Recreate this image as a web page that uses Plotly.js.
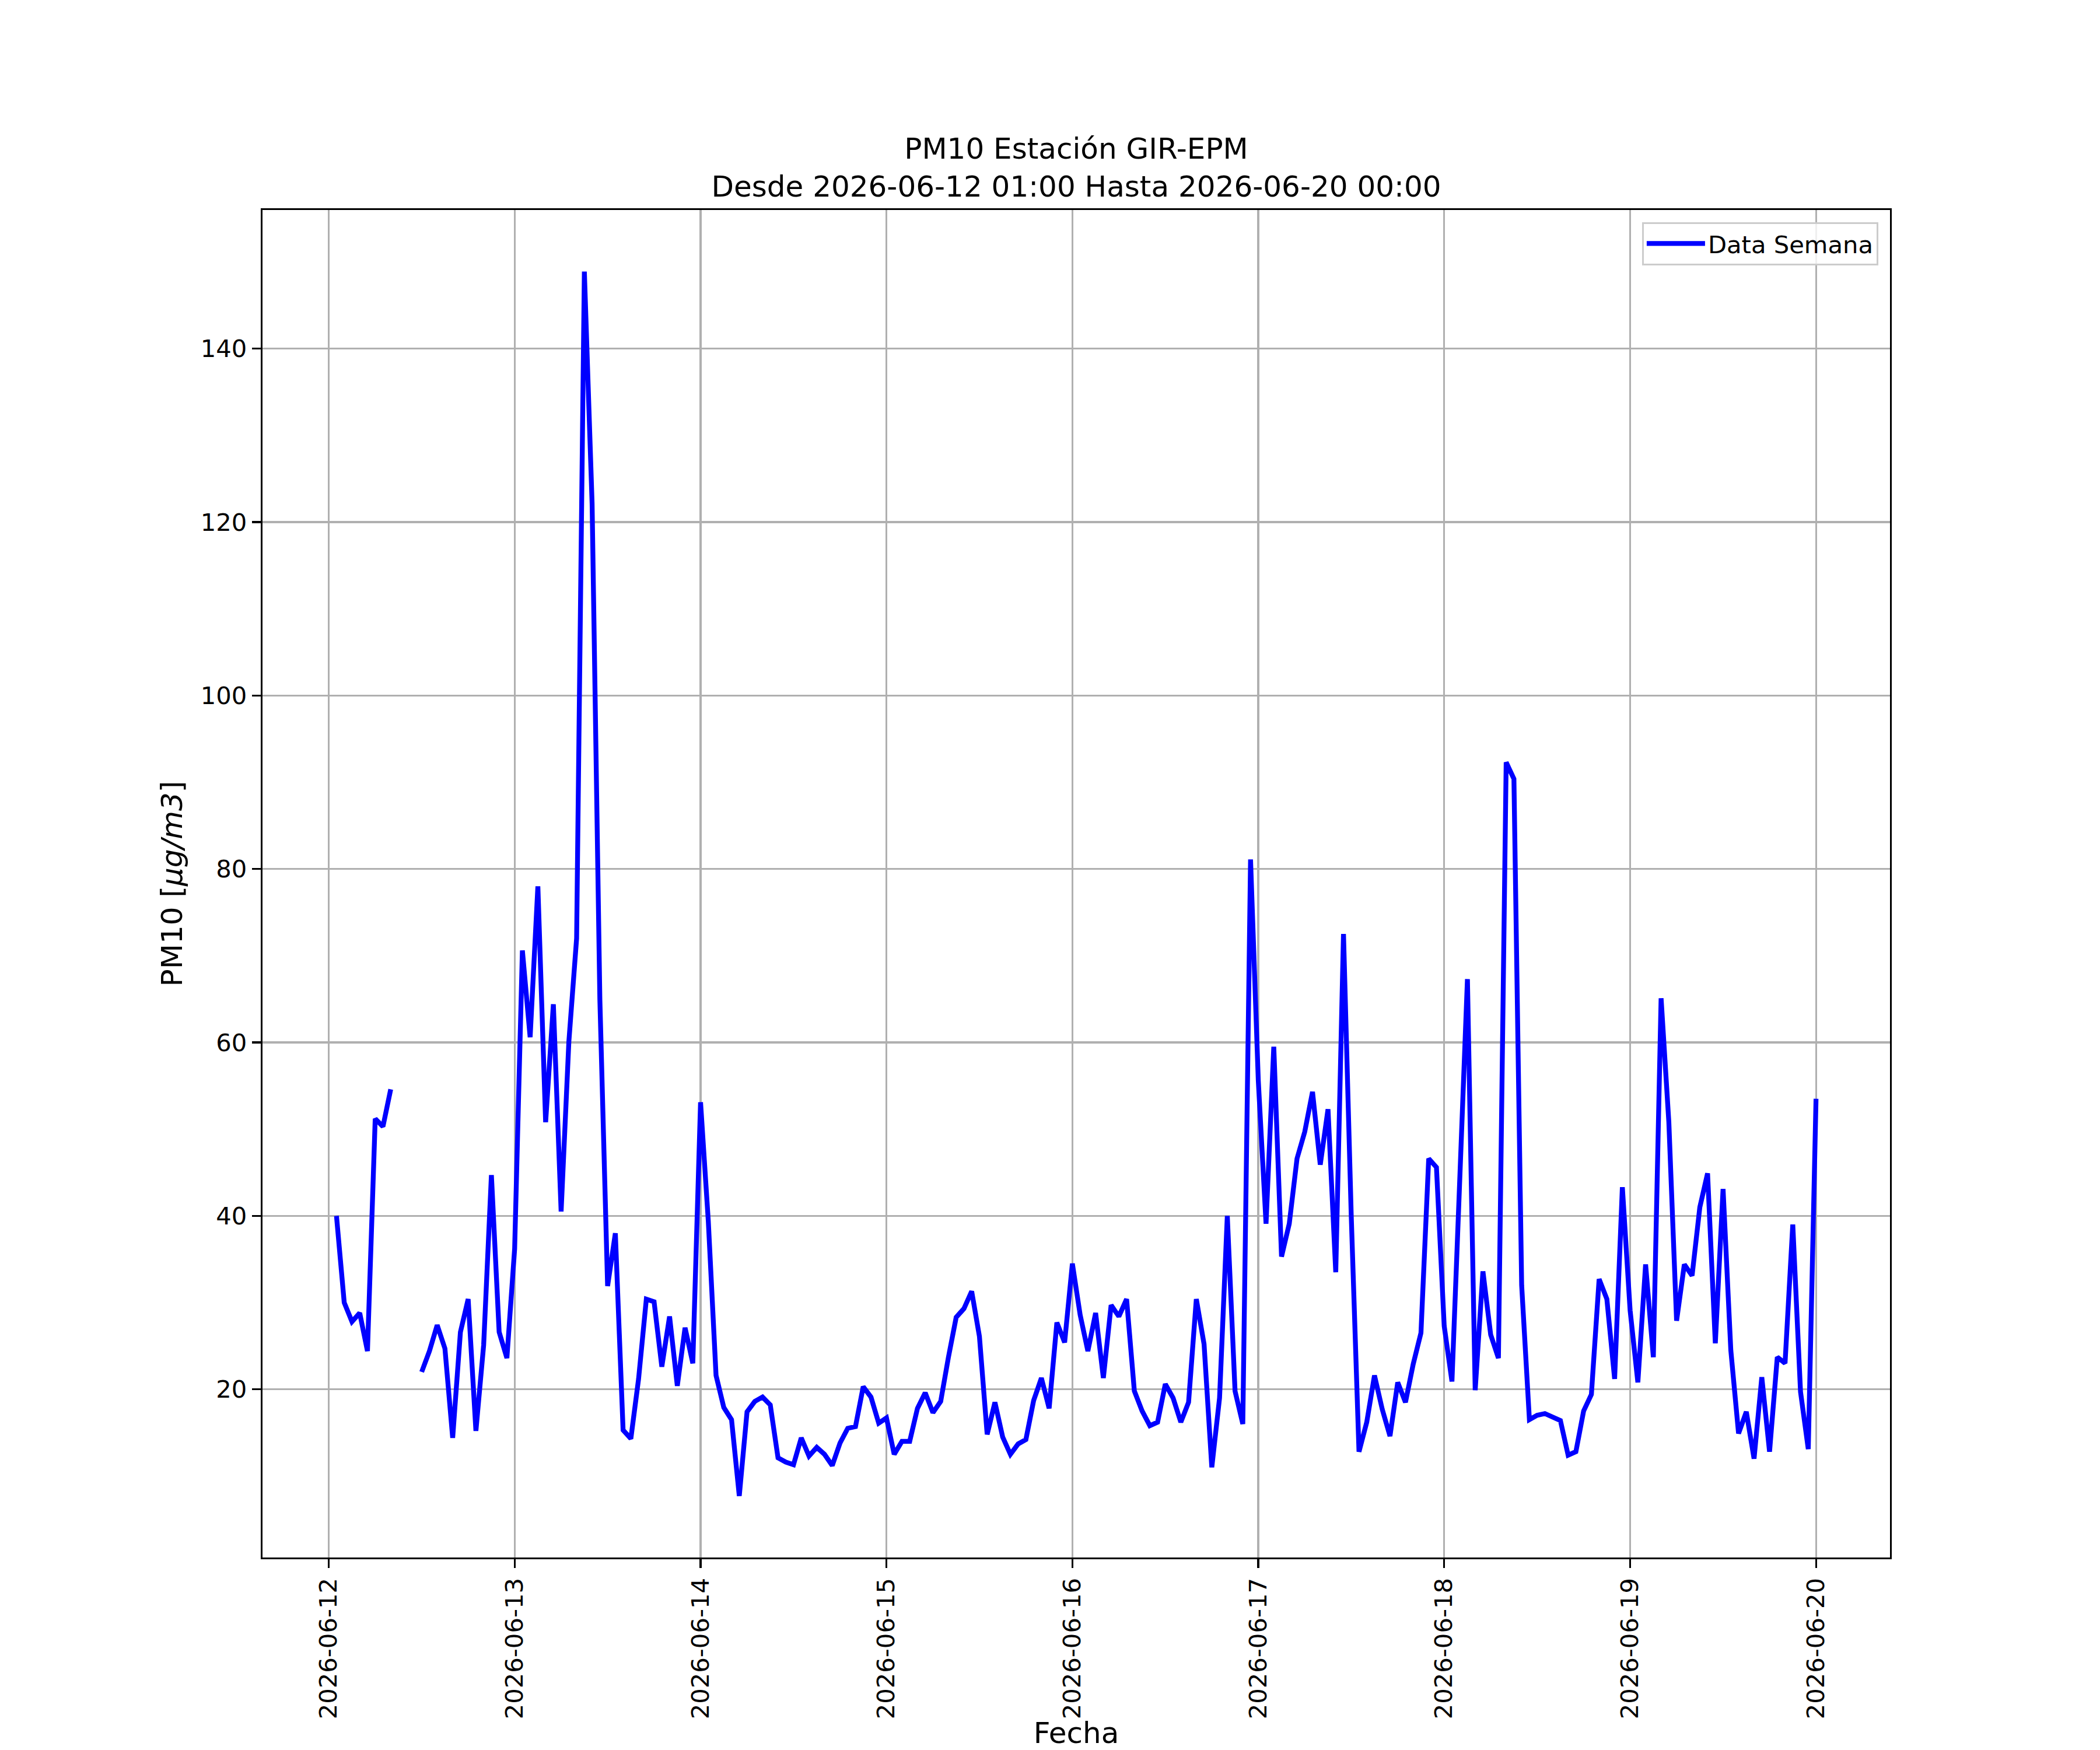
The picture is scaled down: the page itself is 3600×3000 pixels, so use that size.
<!DOCTYPE html>
<html>
<head>
<meta charset="utf-8">
<script src="https://cdn.plot.ly/plotly-3.0.1.min.js"></script>
<style>
  body { margin: 0; background: #ffffff; }
  #grafico { width: 3600px; height: 3000px; }
</style>
</head>
<body>
<div id="grafico"></div>
<script>
// serie horaria, desde 2026-06-12 01:00 hasta 2026-06-20 00:00 (null = sin dato)
var inicioSerie = '2026-06-12T01:00:00Z';
var pm10 = [
    40.0, 30.0, 27.8, 28.8, 24.4, 51.2, 50.3, 54.6, null, null, null, 22.0,
    24.4, 27.4, 24.7, 14.4, 26.6, 30.4, 15.2, 25.1, 44.7, 26.6, 23.6, 36.2,
    70.6, 60.6, 78.0, 50.8, 64.4, 40.5, 60.1, 72.0, 148.9, 122.1, 65.0, 31.9,
    38.0, 15.3, 14.3, 21.2, 30.4, 30.1, 22.6, 28.4, 20.4, 27.1, 23.0, 53.1,
    39.4, 21.6, 17.9, 16.5, 7.7, 17.4, 18.6, 19.1, 18.2, 12.1, 11.6, 11.3,
    14.4, 12.3, 13.3, 12.5, 11.2, 13.8, 15.5, 15.7, 20.3, 19.1, 16.1, 16.7,
    12.5, 14.0, 14.0, 17.8, 19.6, 17.3, 18.6, 23.7, 28.3, 29.3, 31.3, 26.1,
    14.8, 18.5, 14.5, 12.5, 13.7, 14.2, 18.7, 21.3, 17.8, 27.7, 25.4, 34.5,
    28.6, 24.4, 28.8, 21.3, 29.7, 28.4, 30.4, 19.8, 17.5, 15.8, 16.2, 20.6,
    19.0, 16.2, 18.5, 30.4, 25.2, 11.0, 19.0, 40.0, 19.8, 16.0, 81.1, 55.6,
    39.1, 59.5, 35.3, 39.1, 46.6, 49.7, 54.3, 45.9, 52.3, 33.5, 72.5, 40.0,
    12.8, 16.2, 21.6, 17.7, 14.6, 20.8, 18.5, 22.9, 26.5, 46.6, 45.6, 27.3,
    20.9, 44.0, 67.3, 19.9, 33.6, 26.3, 23.6, 92.3, 90.4, 32.0, 16.5, 17.0,
    17.2, 16.8, 16.4, 12.4, 12.8, 17.5, 19.4, 32.7, 30.4, 21.2, 43.3, 29.1,
    20.8, 34.4, 23.7, 65.1, 50.8, 27.9, 34.4, 33.1, 41.0, 44.9, 25.3, 43.1,
    24.5, 14.9, 17.4, 12.0, 21.4, 12.8, 23.7, 23.0, 39.0, 19.7, 13.1, 53.5
];
var nombreSerie = 'Data Semana';
var titulo = 'PM10 Estación GIR-EPM<br>Desde 2026-06-12 01:00 Hasta 2026-06-20 00:00';
var etiquetaX = 'Fecha';
var etiquetaY = 'PM10 [<i>μg/m3</i>]';

var HORA = 3600000;
var fmt = function(ms) { return new Date(ms).toISOString().slice(0, 16).replace('T', ' '); };
var t0 = Date.parse(inicioSerie);
var fechas = pm10.map(function(v, i) { return fmt(t0 + i * HORA); });

// margen de 5% como matplotlib
var t1 = t0 + (pm10.length - 1) * HORA;
var pad = (t1 - t0) * 0.05;
var rangoX = [fmt(t0 - pad), fmt(t1 + pad)];

var fuente = 'DejaVu Sans, sans-serif';

var traza = {
    x: fechas,
    y: pm10,
    type: 'scatter',
    mode: 'lines',
    name: nombreSerie,
    connectgaps: false,
    line: { color: '#0000ff', width: 8.3 }
};

var ejeComun = {
    showline: true, mirror: true, linecolor: '#000000', linewidth: 3.3,
    ticks: 'outside', ticklen: 15, tickwidth: 3.3, tickcolor: '#000000',
    showgrid: true, gridcolor: '#b0b0b0', gridwidth: 3.3,
    zeroline: false,
    tickfont: { family: fuente, size: 41.7, color: '#000000' }
};

var layout = {
    width: 3600, height: 3000, autosize: false,
    paper_bgcolor: '#ffffff', plot_bgcolor: '#ffffff',
    font: { family: fuente, color: '#000000' },
    margin: { l: 450, r: 360, t: 360, b: 330 },
    title: {
        text: titulo,
        font: { family: fuente, size: 50, color: '#000000' },
        x: 0.5, xref: 'paper', xanchor: 'center',
        y: 0.9095, yref: 'container', yanchor: 'middle'
    },
    xaxis: Object.assign({}, ejeComun, {
        type: 'date',
        range: rangoX,
        tick0: '2026-06-12', dtick: 86400000,
        tickformat: '%Y-%m-%d',
        tickangle: -90,
        title: { text: etiquetaX, font: { family: fuente, size: 50, color: '#000000' }, standoff: 14 }
    }),
    yaxis: Object.assign({}, ejeComun, {
        range: [0.6, 156],
        tick0: 0, dtick: 20,
        title: { text: etiquetaY, font: { family: fuente, size: 50, color: '#000000' }, standoff: 16 }
    }),
    showlegend: true,
    legend: {
        x: 0.9928, y: 0.991, xanchor: 'right', yanchor: 'top',
        itemwidth: 100,
        bgcolor: 'rgba(255,255,255,0.8)', bordercolor: '#cccccc', borderwidth: 3,
        font: { family: fuente, size: 41.7, color: '#000000' }
    }
};

Plotly.newPlot('grafico', [traza], layout, { displayModeBar: false, staticPlot: true });
</script>
</body>
</html>
